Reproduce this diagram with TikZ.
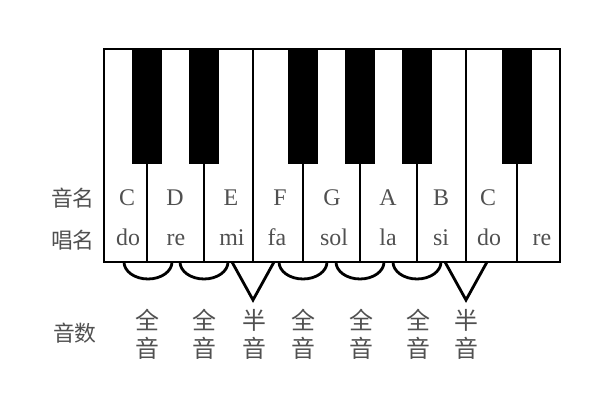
\documentclass[tikz,border=0pt]{standalone}
\usepackage{fontspec}
\setmainfont{Liberation Serif}
\newfontfamily\cjk{Noto Sans CJK SC}
\usepackage{tikz}
\usetikzlibrary{positioning}
\definecolor{labelgray}{RGB}{80,80,80}
\tikzset{
    keyline/.style={draw=black, line width=1.4pt},
    blackkey/.style={fill=black, draw=black, line width=1pt},
    tone/.style={draw=black, line width=2pt},
    note/.style={text=labelgray, font=\fontsize{17}{20}\selectfont, inner sep=0pt},
    rowname/.style={text=labelgray, font=\cjk\fontsize{15.5}{18}\selectfont, inner sep=0pt},
    step name/.style={text=labelgray, font=\cjk\fontsize{17}{20}\selectfont, align=center, inner sep=0pt}
}

\begin{document}
\begin{tikzpicture}[x=0.025cm, y=-0.025cm]
	\useasboundingbox (0, 0) rectangle (600, 400);
	% keyboard
	\draw[keyline] (104, 49) rectangle (560, 262);
	\draw[keyline] (253, 49) -- (253, 262);
	\draw[keyline] (466, 49) -- (466, 262);
	\draw[keyline] (147, 163) -- (147, 262);
	\draw[keyline] (204, 163) -- (204, 262);
	\draw[keyline] (303, 163) -- (303, 262);
	\draw[keyline] (360, 163) -- (360, 262);
	\draw[keyline] (417, 163) -- (417, 262);
	\draw[keyline] (517, 163) -- (517, 262);
	\fill[blackkey] (133, 49) rectangle (161, 163);
	\fill[blackkey] (190, 49) rectangle (218, 163);
	\fill[blackkey] (289, 49) rectangle (317, 163);
	\fill[blackkey] (346, 49) rectangle (374, 163);
	\fill[blackkey] (403, 49) rectangle (431, 163);
	\fill[blackkey] (503, 49) rectangle (531, 163);
	% row names
	\node[rowname] (yinming) at (73, 198) {音名};
	\node[rowname] (changming) at (73, 240) {唱名};
	\node[rowname] (yinshu) at (75, 333) {音数};
	% note names
	\node[note] (c1) at (127, 198) {C};
	\node[note] (d1) at (175, 198) {D};
	\node[note] (e1) at (231, 198) {E};
	\node[note] (f1) at (280, 198) {F};
	\node[note] (g1) at (332, 198) {G};
	\node[note] (a1) at (388, 198) {A};
	\node[note] (b1) at (441, 198) {B};
	\node[note] (c2) at (488, 198) {C};
	% sung names
	\node[note, anchor=base] (do1) at (128, 246) {do};
	\node[note, anchor=base] (re1) at (176, 246) {re};
	\node[note, anchor=base] (mi1) at (232, 246) {mi};
	\node[note, anchor=base] (fa1) at (277, 246) {fa};
	\node[note, anchor=base] (sol1) at (334, 246) {sol};
	\node[note, anchor=base] (la1) at (388, 246) {la};
	\node[note, anchor=base] (si1) at (441, 246) {si};
	\node[note, anchor=base] (do2) at (489, 246) {do};
	\node[note, anchor=base] (re2) at (542, 246) {re};
	% steps
	\draw[tone] (124, 262) arc[start angle=180, end angle=0, x radius=24, y radius=17];
	\draw[tone] (180, 262) arc[start angle=180, end angle=0, x radius=24, y radius=17];
	\draw[tone] (279, 262) arc[start angle=180, end angle=0, x radius=24, y radius=17];
	\draw[tone] (336, 262) arc[start angle=180, end angle=0, x radius=24, y radius=17];
	\draw[tone] (393, 262) arc[start angle=180, end angle=0, x radius=24, y radius=17];
	\draw[tone] (232, 262) -- (253, 300) -- (274, 262);
	\draw[tone] (445, 262) -- (466, 300) -- (487, 262);
	\node[step name] (cd) at (147, 334) {全\\音};
	\node[step name] (de) at (204, 334) {全\\音};
	\node[step name] (ef) at (254, 334) {半\\音};
	\node[step name] (fg) at (303, 334) {全\\音};
	\node[step name] (ga) at (361, 334) {全\\音};
	\node[step name] (ab) at (418, 334) {全\\音};
	\node[step name] (bc) at (466, 334) {半\\音};
\end{tikzpicture}
\end{document}
